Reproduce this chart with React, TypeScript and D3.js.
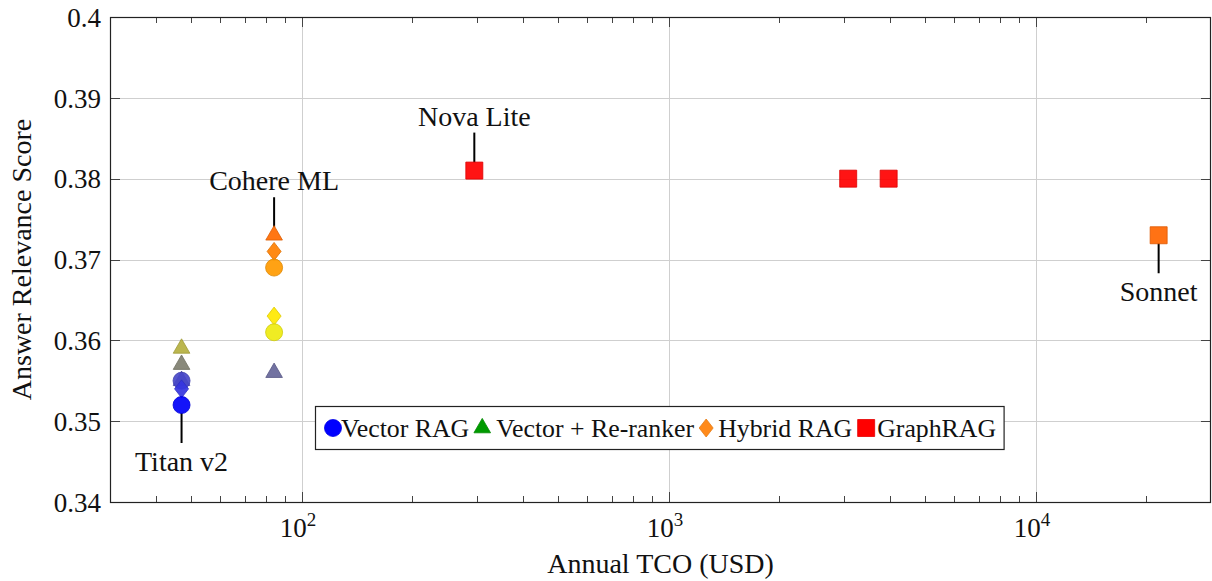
import React, { useEffect, useRef } from "react";
import * as d3 from "d3";

const W = 1212;
const H = 581;

// Legend / pipelines
const pipelines = ["Vector RAG", "Vector + Re-ranker", "Hybrid RAG", "GraphRAG"];
const pipelineSymbols = ["circle", "triangle", "diamond", "square"];
const pipelineColors = ["#0000ff", "#009a00", "#ff8a1a", "#ff0000"];

// Points (drawn in this order)
const pointPipeline = [1, 1, 1, 0, 2, 0, 1, 2, 0, 2, 0, 1, 3, 3, 3, 3];
const pointCost = [47, 47, 47, 47, 47, 47, 84, 84, 84, 84, 84, 84, 295, 3080, 3970, 21600];
const pointScore = [
  0.359, 0.357, 0.355, 0.355, 0.354, 0.352,
  0.373, 0.371, 0.369, 0.363, 0.361, 0.356,
  0.381, 0.38, 0.38, 0.373,
];
const pointColor = [
  "#b5b040", "#7f7f70", "#4a4ab8", "#4848c8", "#3535e0", "#0000f8",
  "#ff6a00", "#ff8000", "#ff9a00", "#ffe800", "#eeea10", "#666699",
  "#ff0000", "#ff0000", "#ff0000", "#ff6600",
];

// Annotations
const annotLabels = ["Titan v2", "Cohere ML", "Nova Lite", "Sonnet"];
const annotPoint = [5, 6, 12, 15];
const annotBelow = [true, false, false, true];

// Ticks
const xTickExps = [2, 3, 4];
const yTicks = [0.34, 0.35, 0.36, 0.37, 0.38, 0.39, 0.4];
const yTickLabels = ["0.34", "0.35", "0.36", "0.37", "0.38", "0.39", "0.4"];

const FONT = '"Liberation Serif", "Times New Roman", Times, serif';

function shapePath(sym: string): string {
  if (sym === "circle") {
    const r = 8.5;
    return `M${r},0A${r},${r},0,1,1,${-r},0A${r},${r},0,1,1,${r},0Z`;
  }
  if (sym === "triangle") {
    const r = 9.6;
    const c = r * Math.cos(Math.PI / 6);
    return `M0,${-r}L${c},${r / 2}L${-c},${r / 2}Z`;
  }
  if (sym === "diamond") {
    return `M0,-9L7,0L0,9L-7,0Z`;
  }
  const h = 8.5;
  return `M${-h},${-h}L${h},${-h}L${h},${h}L${-h},${h}Z`;
}

export default function App() {
  const ref = useRef<SVGSVGElement | null>(null);

  useEffect(() => {
    const svg = d3.select(ref.current);
    svg.selectAll("*").remove();

    const left = 110, right = 1211, top = 17, bottom = 502;
    const x = d3.scaleLog().domain([30, 30000]).range([left, right]);
    const y = d3.scaleLinear().domain([0.34, 0.4]).range([bottom, top]);

    svg.append("rect").attr("width", W).attr("height", H).attr("fill", "#fff");

    // grid
    const grid = svg.append("g").attr("stroke", "#cfcfcf").attr("stroke-width", 1);
    xTickExps.forEach((e) => {
      const px = Math.round(x(Math.pow(10, e))) + 0.5;
      grid.append("line").attr("x1", px).attr("x2", px).attr("y1", top).attr("y2", bottom);
    });
    yTicks.forEach((t) => {
      const py = Math.round(y(t)) + 0.5;
      grid.append("line").attr("x1", left).attr("x2", right).attr("y1", py).attr("y2", py);
    });

    // ticks
    const ticks = svg.append("g").attr("stroke", "#444").attr("stroke-width", 1);
    const minor: number[] = [];
    for (let e = 1; e <= 4; e++) {
      for (let k = 2; k <= 9; k++) {
        const v = k * Math.pow(10, e);
        if (v > 30 && v < 30000) minor.push(v);
      }
    }
    minor.forEach((v) => {
      const px = Math.round(x(v)) + 0.5;
      ticks.append("line").attr("x1", px).attr("x2", px).attr("y1", bottom).attr("y2", bottom - 6);
      ticks.append("line").attr("x1", px).attr("x2", px).attr("y1", top).attr("y2", top + 6);
    });
    xTickExps.forEach((e) => {
      const px = Math.round(x(Math.pow(10, e))) + 0.5;
      ticks.append("line").attr("x1", px).attr("x2", px).attr("y1", bottom).attr("y2", bottom - 10);
      ticks.append("line").attr("x1", px).attr("x2", px).attr("y1", top).attr("y2", top + 10);
    });
    yTicks.forEach((t) => {
      const py = Math.round(y(t)) + 0.5;
      ticks.append("line").attr("x1", left).attr("x2", left + 10).attr("y1", py).attr("y2", py);
      ticks.append("line").attr("x1", right).attr("x2", right - 10).attr("y1", py).attr("y2", py);
    });

    // axis frame
    svg.append("rect")
      .attr("x", left + 0.5).attr("y", top + 0.5)
      .attr("width", right - left - 1).attr("height", bottom - top)
      .attr("fill", "none").attr("stroke", "#222").attr("stroke-width", 1.2);

    const txt = (sel: any, size: number) =>
      sel.style("font-family", FONT).attr("font-size", size).attr("fill", "#111");

    // tick labels
    yTicks.forEach((t, i) => {
      txt(svg.append("text"), 27)
        .attr("x", 101).attr("y", y(t)).attr("dy", "0.36em")
        .attr("text-anchor", "end")
        .text(yTickLabels[i]);
    });
    xTickExps.forEach((e) => {
      const tx = txt(svg.append("text"), 27)
        .attr("x", x(Math.pow(10, e)) - 4).attr("y", 537)
        .attr("text-anchor", "middle");
      tx.append("tspan").text("10");
      tx.append("tspan").attr("dy", -11).attr("font-size", 19).text(String(e));
    });

    // axis titles
    txt(svg.append("text"), 28)
      .attr("x", (left + right) / 2).attr("y", 573)
      .attr("text-anchor", "middle")
      .text("Annual TCO (USD)");
    txt(svg.append("text"), 28)
      .attr("transform", `translate(31,${(top + bottom) / 2}) rotate(-90)`)
      .attr("text-anchor", "middle")
      .text("Answer Relevance Score");

    // annotations pins
    annotLabels.forEach((lab, i) => {
      const p = annotPoint[i];
      const px = x(pointCost[p]);
      const py = y(pointScore[p]);
      const below = annotBelow[i];
      const y1 = below ? py + 8 : py - 8;
      const y2 = below ? py + 38 : py - 38;
      svg.append("line")
        .attr("x1", px).attr("x2", px).attr("y1", y1).attr("y2", y2)
        .attr("stroke", "#000").attr("stroke-width", 2);
      txt(svg.append("text"), 28)
        .attr("x", px).attr("y", below ? py + 66 : py - 45)
        .attr("text-anchor", "middle")
        .text(lab);
    });

    // points
    const pts = svg.append("g");
    pointCost.forEach((c, i) => {
      const col = pointColor[i];
      pts.append("path")
        .attr("d", shapePath(pipelineSymbols[pointPipeline[i]]))
        .attr("transform", `translate(${x(c)},${y(pointScore[i])})`)
        .attr("fill", col)
        .attr("stroke", d3.color(col)!.darker(0.4).formatHex())
        .attr("stroke-width", 0.8)
        .attr("fill-opacity", 0.92);
    });

    // legend
    const lg = svg.append("g");
    const box = lg.append("rect")
      .attr("x", 315.5).attr("y", 406.5).attr("height", 43)
      .attr("fill", "#fff").attr("stroke", "#222").attr("stroke-width", 1.2);
    let cursor = 315;
    const cy = 428;
    const gapBefore = [18, 13, 12, 14];
    const gapAfter = [8, 14, 12, 11];
    pipelines.forEach((name, i) => {
      const mx = cursor + gapBefore[i];
      lg.append("path")
        .attr("d", shapePath(pipelineSymbols[i]))
        .attr("transform", `translate(${mx},${cy})`)
        .attr("fill", pipelineColors[i])
        .attr("stroke", d3.color(pipelineColors[i])!.darker(0.3).formatHex())
        .attr("stroke-width", 0.8);
      const tx = mx + gapAfter[i];
      const t = txt(lg.append("text"), 25.8)
        .attr("x", tx).attr("y", cy).attr("dy", "0.35em")
        .text(name);
      const w = (t.node() as SVGTextElement).getComputedTextLength();
      cursor = tx + w;
    });
    box.attr("width", cursor + 8 - 315.5);
  }, []);

  return (
    <svg
      ref={ref}
      width={W}
      height={H}
      style={{ position: "absolute", left: 0, top: 0, display: "block", fontFamily: FONT }}
    />
  );
}
